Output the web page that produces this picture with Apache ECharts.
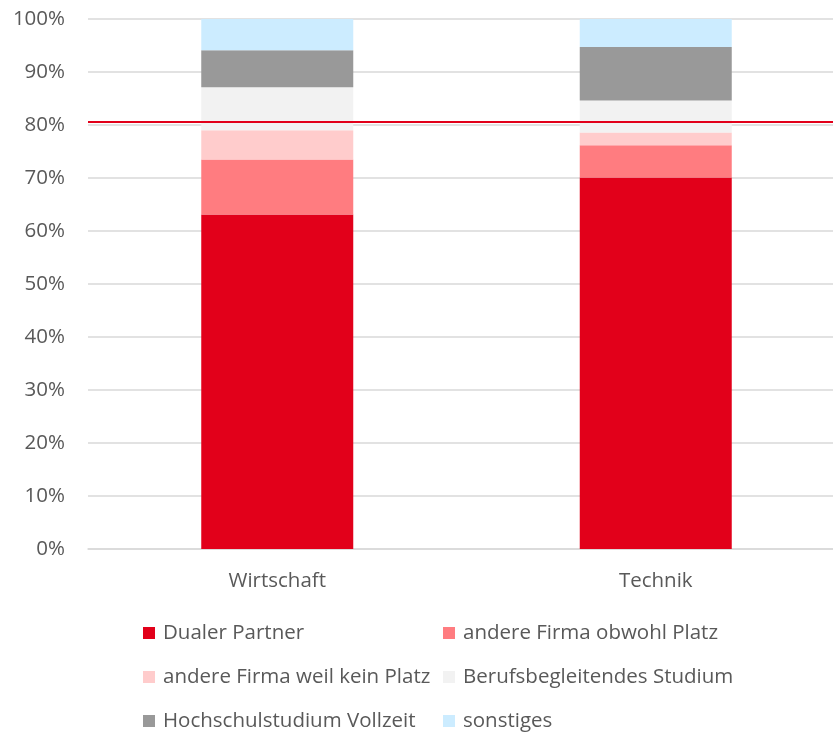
<!DOCTYPE html>
<html>
<head>
<meta charset="utf-8">
<script src="https://cdn.jsdelivr.net/npm/echarts@6/dist/echarts.min.js"></script>
<style>
  html, body { margin: 0; padding: 0; background: #fff; }
  #chart { width: 833px; height: 734px; }
</style>
</head>
<body>
<div id="chart"></div>
<script>
// Study fields on the x axis
const categories = ['Wirtschaft', 'Technik'];

// Share of graduates per destination (percent)
const dualerPartner      = [63.1, 70.1];
const andereFirmaObwohl  = [10.4, 6.1];
const andereFirmaKein    = [5.5, 2.4];
const berufsbegleitend   = [8.1, 6.0];
const hochschulVollzeit  = [7.0, 10.1];
const sonstiges          = [5.9, 5.3];

// Reference line level (percent)
const referenceLevel = 80.6;

const seriesNames = [
  'Dualer Partner',
  'andere Firma obwohl Platz',
  'andere Firma weil kein Platz',
  'Berufsbegleitendes Studium',
  'Hochschulstudium Vollzeit',
  'sonstiges'
];
const seriesValues = [dualerPartner, andereFirmaObwohl, andereFirmaKein,
                      berufsbegleitend, hochschulVollzeit, sonstiges];
const colors = ['#E2001A', '#FF7C80', '#FFCCCC', '#F2F2F2', '#999999', '#CCECFF'];

const FONT = 'Open Sans';
const FONT_SIZE = 20.5;
const TEXT = '#595959';

const series = seriesNames.map((name, i) => {
  const s = {
    name,
    type: 'bar',
    stack: 'total',
    barWidth: 152,
    data: seriesValues[i],
    itemStyle: { color: colors[i] },
    emphasis: { disabled: true }
  };
  if (i === seriesNames.length - 1) {
    s.markLine = {
      silent: true,
      symbol: 'none',
      label: { show: false },
      lineStyle: { color: '#E2001A', width: 2, type: 'solid' },
      data: [{ yAxis: referenceLevel }]
    };
  }
  return s;
});

// Legend laid out in two columns, three rows
const legendCols = [143, 443];
const legendRows = [621, 665, 709];
const legends = seriesNames.map((name, i) => ({
  left: legendCols[i % 2],
  top: legendRows[Math.floor(i / 2)],
  padding: 0,
  data: [name],
  itemWidth: 12,
  itemHeight: 12,
  itemGap: 0,
  icon: 'rect',
  selectedMode: false,
  textStyle: {
    fontFamily: FONT, fontSize: FONT_SIZE, color: TEXT,
    lineHeight: 24, padding: [0, 0, 0, 3]
  }
}));

const chart = echarts.init(document.getElementById('chart'), null, { renderer: 'canvas' });
chart.setOption({
  animation: false,
  color: colors,
  grid: { left: 88, top: 19, width: 757, height: 530, outerBoundsMode: 'none' },
  legend: legends,
  xAxis: {
    type: 'category',
    data: categories,
    axisLine: { show: true, lineStyle: { color: '#D9D9D9', width: 1.5 } },
    axisTick: { show: false },
    axisLabel: { fontFamily: FONT, fontSize: FONT_SIZE, color: TEXT, margin: 22 }
  },
  yAxis: {
    type: 'value',
    min: 0,
    max: 100,
    interval: 10,
    axisLine: { show: false },
    axisTick: { show: false },
    splitLine: { lineStyle: { color: '#D9D9D9', width: 1.5 } },
    axisLabel: {
      fontFamily: FONT, fontSize: FONT_SIZE, color: TEXT, margin: 23,
      formatter: v => v + '%'
    }
  },
  series
});
</script>
</body>
</html>
